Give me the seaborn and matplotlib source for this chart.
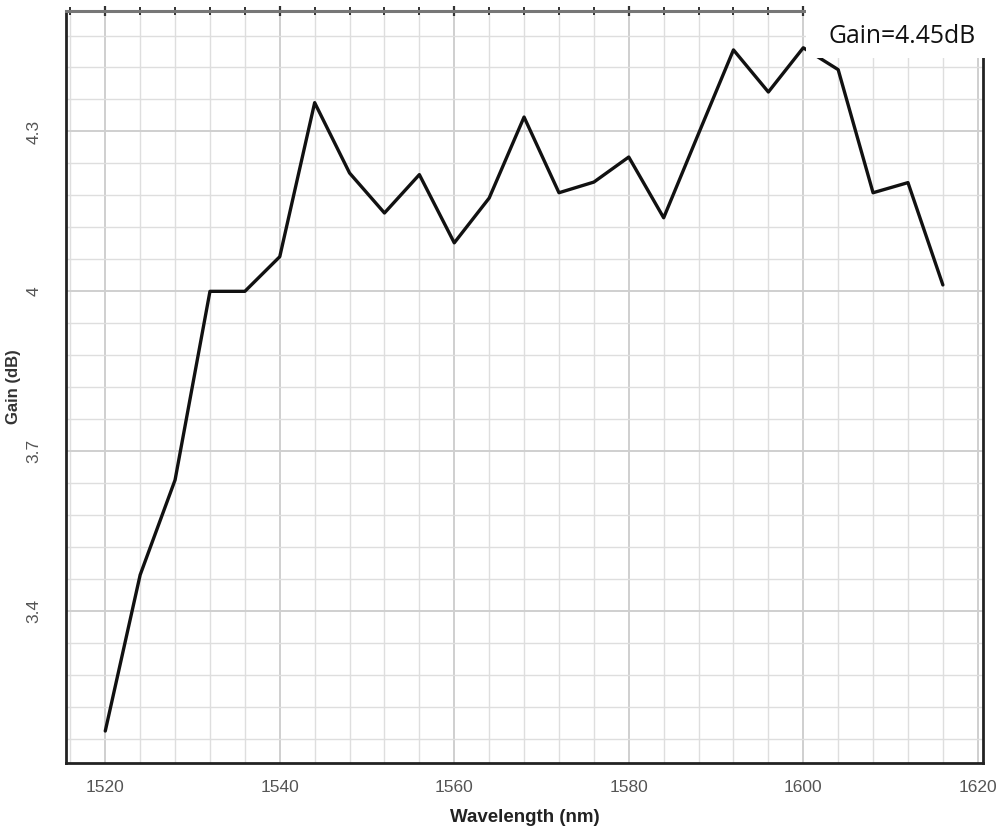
import numpy as np
import pandas as pd
import matplotlib
matplotlib.use("Agg")
import matplotlib.pyplot as plt
from matplotlib.ticker import FixedLocator, FuncFormatter
from matplotlib.patches import Rectangle
import seaborn as sns

# ---- data ----
wavelength = [1520, 1524, 1528, 1532, 1536, 1540, 1544, 1548, 1552, 1556,
              1560, 1564, 1568, 1572, 1576, 1580, 1584, 1588, 1592, 1596,
              1600, 1604, 1608, 1612, 1616]
gain = [3.175, 3.468, 3.646, 4.000, 4.000, 4.065, 4.354, 4.222, 4.147, 4.219,
        4.091, 4.175, 4.327, 4.185, 4.205, 4.252, 4.138, 4.296, 4.453, 4.374,
        4.457, 4.416, 4.185, 4.204, 4.012]
x_ticks = [1520, 1540, 1560, 1580, 1600, 1620]
y_ticks = [3.4, 3.7, 4.0, 4.3]
annotation = "Gain=4.45dB"

df = pd.DataFrame({"Wavelength": wavelength, "Gain": gain})

sns.set_style("white")
plt.rcParams['font.family'] = ['Liberation Sans', 'DejaVu Sans']

fig = plt.figure(figsize=(9.99, 8.27), dpi=100)
ax = fig.add_axes([66/999, 1-763/827, (983-66)/999, (763-11)/827])

sns.lineplot(data=df, x="Wavelength", y="Gain", ax=ax, color="#111111",
             linewidth=2.4, zorder=5)

ax.set_xlim(1515.5, 1620.6)
ax.set_ylim(3.115, 4.526)

ax.xaxis.set_major_locator(FixedLocator(x_ticks))
ax.yaxis.set_major_locator(FixedLocator(y_ticks))
ax.xaxis.set_minor_locator(FixedLocator(np.arange(1516, 1621, 4)))
ax.yaxis.set_minor_locator(FixedLocator(np.arange(3.16, 4.53, 0.06)))
ax.yaxis.set_major_formatter(FuncFormatter(lambda v, p: f"{v:g}"))

ax.grid(True, which="major", color="#cfcfcf", linewidth=1.4)
ax.grid(True, which="minor", color="#dedede", linewidth=1.0)
ax.set_axisbelow(True)

ax.tick_params(axis="both", which="both", direction="inout",
               colors="#333333", top=True, right=True)
ax.tick_params(axis="both", which="major", length=7, width=1.6,
               labelcolor="#555555", labelsize=12.5)
ax.tick_params(axis="both", which="minor", length=6, width=1.4)
ax.tick_params(axis="y", which="both", right=False)
ax.tick_params(axis="x", which="major", pad=9)
ax.tick_params(axis="y", which="major", pad=14)
for lab in ax.get_yticklabels():
    lab.set_rotation(90)
    lab.set_va("center")

for side in ["left", "bottom", "right"]:
    ax.spines[side].set_color("#222222")
    ax.spines[side].set_linewidth(2.0)
    ax.spines[side].set_visible(True)
ax.spines["top"].set_color("#777777")
ax.spines["top"].set_linewidth(2.2)
ax.spines["top"].set_visible(True)

ax.set_xlabel("Wavelength (nm)", fontsize=13.5, fontweight="bold", color="#222222",
              labelpad=10)
ax.set_ylabel("Gain (dB)", fontsize=12, fontweight="bold", color="#333333")
ax.yaxis.set_label_coords(-45/917, 0.5)

fig.add_artist(Rectangle((806/999, 1-58/827), 200/999, 60/827,
                         transform=fig.transFigure, facecolor="white",
                         edgecolor="none", zorder=10))
fig.text(902/999, 1-43/827, annotation, ha="center", va="baseline",
         fontsize=17.8, family="Open Sans", color="#111111", zorder=11)

fig.savefig("out.png", dpi=100)
